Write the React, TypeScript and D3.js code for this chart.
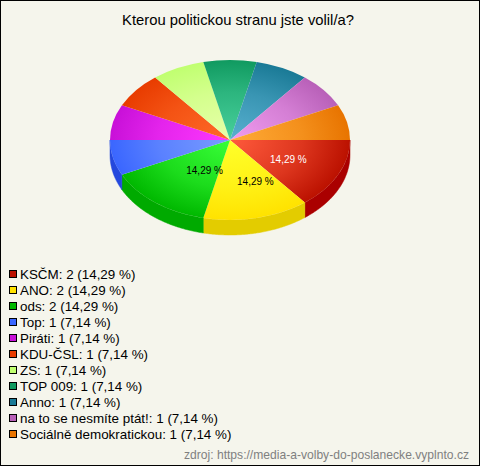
import { useEffect, useRef } from "react";
import * as d3 from "d3";

const parties = ["KSČM", "ANO", "ods", "Top", "Piráti", "KDU-ČSL", "ZS", "TOP 009", "Anno", "na to se nesmíte ptát!", "Sociálně demokratickou"];
const votes = [2, 2, 2, 1, 1, 1, 1, 1, 1, 1, 1];
const shares = ["14,29", "14,29", "14,29", "7,14", "7,14", "7,14", "7,14", "7,14", "7,14", "7,14", "7,14"];
const innerColors = ["#ff5a3c", "#ffff2a", "#38ff38", "#7a9cff", "#ff38ff", "#ff6a28", "#e8ffaa", "#48d09c", "#58b0d0", "#f09cf0", "#ffac38"];
const outerColors = ["#bb1100", "#ffe200", "#00b800", "#3a66ff", "#c810d8", "#e83c00", "#c0ff70", "#109a60", "#1a7a96", "#b860b8", "#e87400"];
const sideColors = ["#aa0000", "#e3cc00", "#00aa00", "#2448dd", "#a000a8", "#b83000", "#98cc50", "#007040", "#0c5a70", "#8a408a", "#b85800"];

const width = 480;
const height = 466;
const cx = 230;
const cy = 140;
const rx = 120;
const squash = 2 / 3;
const depth = 15;

// the source chart does not centre its labels on the slice, so these are nudged
const labelNudge = [[0, 0], [11, -1], [15, -4]];

const App = () => {
  const ref = useRef<SVGSVGElement>(null);

  useEffect(() => {
    if (!ref.current) return;
    const svg = d3.select(ref.current);
    const font = "'Liberation Sans', Arial, sans-serif";

    svg.append("rect")
      .attr("x", 0.5).attr("y", 0.5)
      .attr("width", width - 1).attr("height", height - 1)
      .attr("fill", "#f5f5ec").attr("stroke", "#000");

    svg.append("text")
      .attr("x", 238).attr("y", 25)
      .attr("text-anchor", "middle")
      .attr("font-family", font).attr("font-size", 14.8)
      .text("Kterou politickou stranu jste volil/a?");

    const pie = d3.pie<number>().sort(null).startAngle(Math.PI / 2).endAngle(Math.PI * 2.5);
    const slices = pie(votes);
    const arc = d3.arc<d3.PieArcDatum<number>>().innerRadius(0).outerRadius(rx);

    // side wall, only the part of each slice that faces the viewer
    const wall = d3.area<number>()
      .x((a) => cx + rx * Math.sin(a))
      .y0((a) => cy - rx * squash * Math.cos(a))
      .y1((a) => cy - rx * squash * Math.cos(a) + depth);
    slices.forEach((s, i) => {
      const from = Math.max(s.startAngle, Math.PI / 2);
      const to = Math.min(s.endAngle, Math.PI * 1.5);
      if (to <= from) return;
      svg.append("path")
        .attr("d", wall(d3.range(from, to, 0.01).concat(to)))
        .attr("fill", sideColors[i])
        .attr("stroke", sideColors[i]).attr("stroke-width", 0.5);
    });

    const defs = svg.append("defs");
    slices.forEach((_, i) => {
      const g = defs.append("radialGradient")
        .attr("id", `slice${i}`)
        .attr("gradientUnits", "userSpaceOnUse")
        .attr("cx", 0).attr("cy", 0).attr("r", rx);
      g.append("stop").attr("offset", 0).attr("stop-color", innerColors[i]);
      // stays light a bit longer before falling off to the rim
      g.append("stop").attr("offset", 0.6).attr("stop-color", d3.interpolateRgb(innerColors[i], outerColors[i])(0.5));
      g.append("stop").attr("offset", 1).attr("stop-color", outerColors[i]);
    });

    const top = svg.append("g").attr("transform", `translate(${cx},${cy}) scale(1,${squash})`);
    top.selectAll("path")
      .data(slices)
      .enter()
      .append("path")
      .attr("d", arc)
      .attr("fill", (_, i) => `url(#slice${i})`);

    // labels only on the big slices
    const labelArc = d3.arc<d3.PieArcDatum<number>>().innerRadius(rx * 0.54).outerRadius(rx * 0.54);
    slices.forEach((s, i) => {
      if (votes[i] < 2) return;
      const [x, y] = labelArc.centroid(s);
      const nudge = labelNudge[i] || [0, 0];
      svg.append("text")
        .attr("x", cx + x + nudge[0])
        .attr("y", cy + y * squash + nudge[1] + 4)
        .attr("text-anchor", "middle")
        .attr("font-family", font).attr("font-size", 10)
        .attr("fill", i === 0 ? "#fff" : "#000")
        .text(`${shares[i]} %`);
    });

    const legend = svg.append("g");
    const row = d3.scaleBand<number>().domain(d3.range(parties.length)).range([266, 442]);
    parties.forEach((name, i) => {
      const y = row(i)!;
      legend.append("rect")
        .attr("x", 9.5).attr("y", y + 4.5)
        .attr("width", 7).attr("height", 7)
        .attr("fill", outerColors[i]).attr("stroke", "#000");
      legend.append("text")
        .attr("x", 20).attr("y", y + 13)
        .attr("font-family", font).attr("font-size", 13.4)
        .text(`${name}: ${votes[i]} (${shares[i]} %)`);
    });

    svg.append("text")
      .attr("x", 469).attr("y", 459)
      .attr("text-anchor", "end")
      .attr("font-family", font).attr("font-size", 12.1)
      .attr("fill", "#808080")
      .text("zdroj: https://media-a-volby-do-poslanecke.vyplnto.cz");

    return () => {
      svg.selectAll("*").remove();
    };
  }, []);

  return <svg ref={ref} width={width} height={height} style={{ position: "absolute", left: 0, top: 0 }} />;
};

export default App;
